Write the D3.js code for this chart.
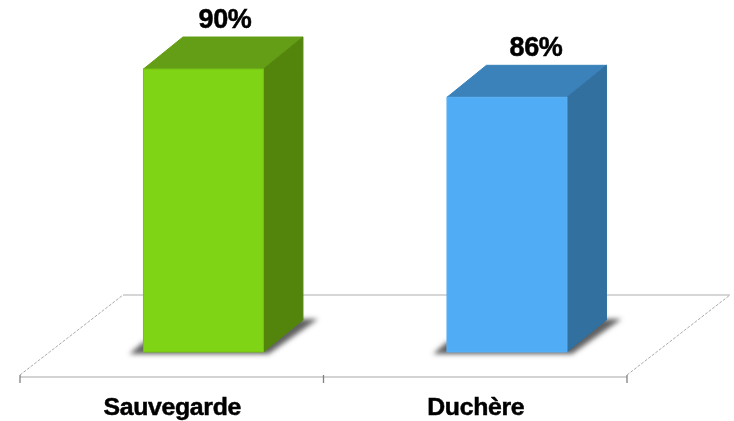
<!DOCTYPE html>
<html><head><meta charset="utf-8">
<script src="https://cdn.jsdelivr.net/npm/d3@7/dist/d3.min.js"></script>
<style>html,body{margin:0;padding:0;background:#fff}svg{display:block}
text{font-family:"Liberation Sans",Arial,sans-serif;font-weight:700;fill:#000;stroke:#000;stroke-width:.5px}</style>
</head><body><svg id="c" width="734" height="421"></svg>
<script>
const categories = ["Sauvegarde", "Duchère"];
const values = [90, 86];
const valueLabels = ["90%", "86%"];
const frontColors = ["#80d417", "#4facf5"];
const topColors = ["#639e12", "#3a82ba"];
const sideColors = ["#528510", "#306fa0"];
const edgeColors = ["#74c014", "#5cb2f6"];

const svg = d3.select("#c");
const defs = svg.append("defs");
defs.append("filter").attr("id","soft").attr("x","-5%").attr("y","-5%").attr("width","110%").attr("height","110%")
  .append("feGaussianBlur").attr("stdDeviation",0.45);
defs.append("filter").attr("id","shadow").attr("x","-20%").attr("y","-40%").attr("width","140%").attr("height","180%")
  .append("feGaussianBlur").attr("stdDeviation",2.4);

const x = d3.scaleBand().domain(categories).range([20,627]);
const labelX = d3.scalePoint().domain(categories).range([225,536]);
const y = d3.scaleLinear().domain([50,90]).range([352,69]);
const barW = 120, dx = 39.5, dy = 32;
const floorY = 377, floorBackY = 295, floorDX = 103;
const barBaseShift = 31.7;
const left = c => x(c) + x.bandwidth()/2 + barBaseShift - barW/2;

const g = svg.append("g").attr("filter","url(#soft)");

// floor
const floor = g.append("g").attr("fill","none");
floor.append("line").attr("x1",x.range()[0]).attr("x2",x.range()[1]).attr("y1",floorY).attr("y2",floorY).attr("stroke","#c4c4c4").attr("stroke-width",1.3);
floor.append("line").attr("x1",x.range()[0]+floorDX).attr("x2",x.range()[1]+floorDX).attr("y1",floorBackY).attr("y2",floorBackY).attr("stroke","#c8c8c8").attr("stroke-width",1.3);
x.range().forEach(r=>{
  floor.append("line").attr("x1",r).attr("x2",r+floorDX).attr("y1",floorY-2).attr("y2",floorBackY)
    .attr("stroke","#a0a0a0").attr("stroke-width",.9).attr("stroke-dasharray","3 1.5");
});
const tickXs = [x(categories[0]), x(categories[1]), x.range()[1]];
floor.selectAll("line.t").data(tickXs).join("line").attr("class","t")
  .attr("x1",d=>d).attr("x2",d=>d).attr("y1",floorY-2).attr("y2",floorY+6)
  .attr("stroke","#808080").attr("stroke-width",1.3);

// shadows
g.selectAll("polygon.s").data(categories).join("polygon").attr("class","s")
  .attr("filter","url(#shadow)").attr("fill","#606060")
  .attr("points",c=>{const l=left(c),b=y(50);return [[l-14,b+2],[l+barW+5,b+2],[l+barW+dx+15,b-dy-1],[l+barW+dx-8,b-dy-1],[l+barW-4,b-10],[l,b-10]].join(" ");});

// bars
const bars = g.selectAll("g.b").data(categories).join("g").attr("class","b");
bars.append("path").attr("fill",(c,i)=>topColors[i]).attr("stroke",(c,i)=>topColors[i]).attr("stroke-linejoin","round")
  .attr("d",(c,i)=>{const l=left(c),t=y(values[i]);return `M${l},${t}L${l+dx},${t-dy}H${l+barW+dx}L${l+barW},${t}Z`;});
bars.append("path").attr("fill",(c,i)=>sideColors[i]).attr("stroke",(c,i)=>sideColors[i]).attr("stroke-linejoin","round")
  .attr("d",(c,i)=>{const l=left(c),t=y(values[i]),b=y(50);return `M${l+barW},${t}L${l+barW+dx},${t-dy}V${b-dy}L${l+barW},${b}Z`;});
bars.append("rect").attr("x",c=>left(c)).attr("width",barW)
  .attr("y",(c,i)=>y(values[i])).attr("height",(c,i)=>y(50)-y(values[i]))
  .attr("fill",(c,i)=>frontColors[i]).attr("stroke",(c,i)=>edgeColors[i]).attr("stroke-width",1);

// text
svg.selectAll("text.v").data(categories).join("text").attr("class","v")
  .attr("x",c=>labelX(c)).attr("y",(c,i)=>y(values[i])-41)
  .attr("text-anchor","middle").attr("font-size",27).attr("letter-spacing",-.3)
  .text((c,i)=>valueLabels[i]);
svg.selectAll("text.c").data(categories).join("text").attr("class","c")
  .attr("x",c=>x(c)+x.bandwidth()/2+.5).attr("y",415)
  .attr("text-anchor","middle").attr("font-size",24.8).attr("letter-spacing",-.3)
  .text(c=>c);
</script></body></html>
